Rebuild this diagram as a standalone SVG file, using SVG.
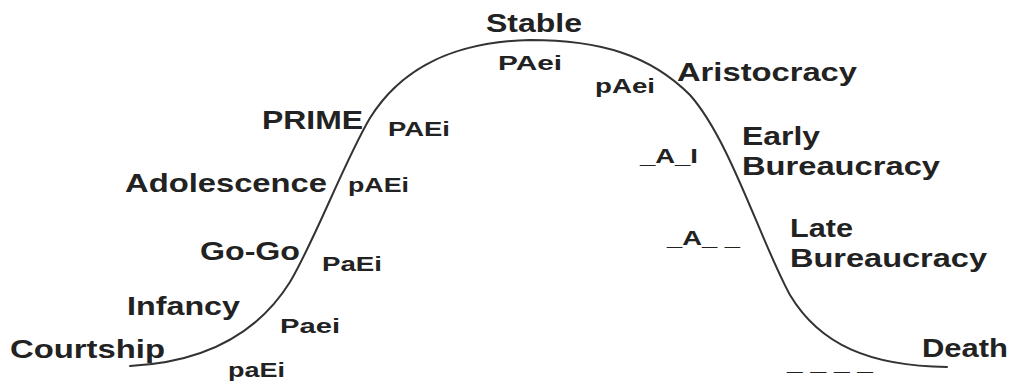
<svg xmlns="http://www.w3.org/2000/svg" width="1011" height="388" viewBox="0 0 1011 388">
  <style>
    .stage { font-family: "Liberation Sans", Arial, sans-serif; font-weight: bold; font-size: 25px; fill: #222; }
    .code { font-family: "Liberation Sans", Arial, sans-serif; font-weight: bold; font-size: 20px; fill: #222; }
    .curve { fill: none; stroke: #333; stroke-width: 2; stroke-linecap: round; }
  </style>
  <rect width="1011" height="388" fill="#fff"/>

  <!-- lifecycle curve -->
  <g id="connectors">
    <path class="curve" d="M130,366 C210,362 260,330 290,282 C315,240 345,160 370,118 C400,70 450,42 530,40 C600,40 650,55 690,95 C730,140 760,240 790,295 C820,345 870,366 947,367"/>
  </g>

  <!-- stage names -->
  <g id="courtship"><text class="stage" x="10" y="358" textLength="155" lengthAdjust="spacingAndGlyphs">Courtship</text></g>
  <g id="infancy"><text class="stage" x="127" y="315" textLength="113" lengthAdjust="spacingAndGlyphs">Infancy</text></g>
  <g id="go-go"><text class="stage" x="200" y="260" textLength="100" lengthAdjust="spacingAndGlyphs">Go-Go</text></g>
  <g id="adolescence"><text class="stage" x="125" y="192" textLength="202" lengthAdjust="spacingAndGlyphs">Adolescence</text></g>
  <g id="prime"><text class="stage" x="262" y="129" textLength="101" lengthAdjust="spacingAndGlyphs">PRIME</text></g>
  <g id="stable"><text class="stage" x="486" y="32" textLength="96" lengthAdjust="spacingAndGlyphs">Stable</text></g>
  <g id="aristocracy"><text class="stage" x="677" y="81" textLength="180" lengthAdjust="spacingAndGlyphs">Aristocracy</text></g>
  <g id="early-bureaucracy">
    <text class="stage" x="742" y="145" textLength="78" lengthAdjust="spacingAndGlyphs">Early</text>
    <text class="stage" x="742" y="175" textLength="198" lengthAdjust="spacingAndGlyphs">Bureaucracy</text>
  </g>
  <g id="late-bureaucracy">
    <text class="stage" x="790" y="237" textLength="63" lengthAdjust="spacingAndGlyphs">Late</text>
    <text class="stage" x="790" y="267" textLength="197" lengthAdjust="spacingAndGlyphs">Bureaucracy</text>
  </g>
  <g id="death"><text class="stage" x="922" y="357" textLength="86" lengthAdjust="spacingAndGlyphs">Death</text></g>

  <!-- PAEI codes -->
  <g id="code-courtship"><text class="code" x="228" y="377" textLength="57" lengthAdjust="spacingAndGlyphs">paEi</text></g>
  <g id="code-infancy"><text class="code" x="280" y="333" textLength="60" lengthAdjust="spacingAndGlyphs">Paei</text></g>
  <g id="code-go-go"><text class="code" x="322" y="271" textLength="60" lengthAdjust="spacingAndGlyphs">PaEi</text></g>
  <g id="code-adolescence"><text class="code" x="348" y="192" textLength="61" lengthAdjust="spacingAndGlyphs">pAEi</text></g>
  <g id="code-prime"><text class="code" x="388" y="136" textLength="62" lengthAdjust="spacingAndGlyphs">PAEi</text></g>
  <g id="code-stable"><text class="code" x="498" y="70" textLength="64" lengthAdjust="spacingAndGlyphs">PAei</text></g>
  <g id="code-aristocracy"><text class="code" x="595" y="93" textLength="60" lengthAdjust="spacingAndGlyphs">pAei</text></g>
  <g id="code-early-bureaucracy"><text class="code" x="640" y="163" textLength="58" lengthAdjust="spacingAndGlyphs">_A_I</text></g>
  <g id="code-late-bureaucracy"><text class="code" x="667" y="245" textLength="73" lengthAdjust="spacingAndGlyphs">_A_ _</text></g>
  <g id="code-death"><text class="code" x="787" y="370" textLength="86" lengthAdjust="spacingAndGlyphs">_ _ _ _</text></g>
</svg>
